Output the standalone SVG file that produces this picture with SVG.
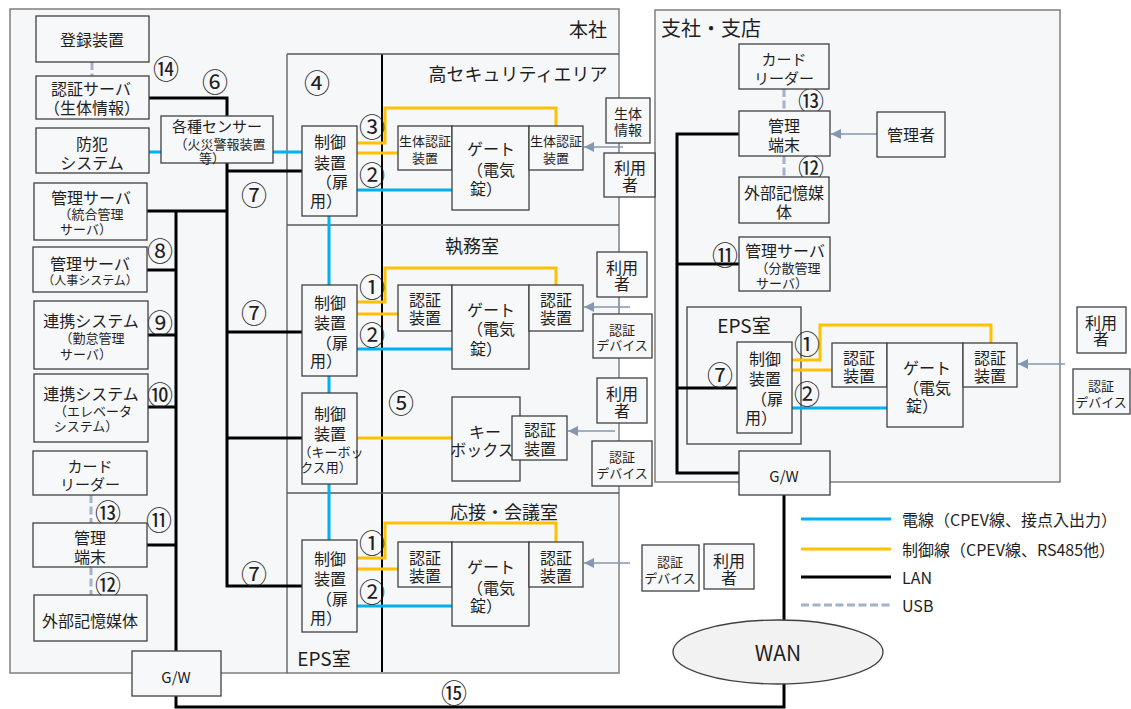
<svg xmlns="http://www.w3.org/2000/svg" width="1131" height="709" viewBox="0 0 1131 709">
<style>
text{font-family:"Noto Sans CJK JP","Noto Sans",sans-serif;fill:#1f1f1f;dominant-baseline:central;text-anchor:middle;font-size:16px}
.s13{font-size:13px}.s12{font-size:12px}.s14{font-size:14px}.s15{font-size:15px}
.num{font-size:26px}
.lbl{font-size:18px}
.area{fill:#f6f7f9;stroke:#7f7f7f;stroke-width:1.5}
.box{fill:#f7f8fa;stroke:#404040;stroke-width:1.3}
.room{stroke:#595959;stroke-width:1.3;fill:none}
.lan{stroke:#000;stroke-width:3;fill:none}
.pw{stroke:#00b0f0;stroke-width:3;fill:none}
.ctl{stroke:#ffc000;stroke-width:3;fill:none}
.usb{stroke:#a3b2c8;stroke-width:3;stroke-dasharray:8 3.5;fill:none}
.arr{stroke:#8497b0;stroke-width:1.5;fill:none;marker-end:url(#ah)}
</style>
<defs>
<marker id="ah" viewBox="0 0 10 10" refX="10" refY="5" markerWidth="11" markerHeight="10" markerUnits="userSpaceOnUse" orient="auto"><path d="M0,0 L10,5 L0,10 z" fill="#8497b0"/></marker>
</defs>
<rect width="1131" height="709" fill="#fff"/>
<g id="hq">
<rect class="area" x="10" y="9" width="609" height="664"/>
<text x="588" y="28" style="font-size:19px">本社</text>
</g>
<g id="branch">
<rect class="area" x="655" y="10" width="405" height="472"/>
<text x="661" y="27" style="font-size:20px;text-anchor:start">支社・支店</text>
</g>
<g id="rooms">
<line class="room" x1="287" y1="54" x2="287" y2="673"/>
<line x1="382" y1="54" x2="382" y2="672" stroke="#000" stroke-width="2"/>
<line class="room" x1="287" y1="54" x2="619" y2="54"/>
<line class="room" x1="287" y1="225" x2="619" y2="225"/>
<line class="room" x1="287" y1="493" x2="619" y2="493"/>
<text class="lbl" x="518" y="73">高セキュリティエリア</text>
<text class="lbl" x="472" y="245">執務室</text>
<text class="lbl" x="504" y="511">応接・会議室</text>
<text x="324" y="657" style="font-size:19px">EPS室</text>
<rect class="box" x="687" y="307" width="114" height="137" style="fill:#f6f7f9"/>
<text x="744" y="324" style="font-size:19px">EPS室</text>
</g>
<g id="connectors">
<polyline class="lan" points="149,98 227,98 227,116"/>
<polyline class="lan" points="227,163 227,586 302,586"/>
<line class="lan" x1="227" y1="171" x2="302" y2="171"/>
<line class="lan" x1="227" y1="332" x2="302" y2="332"/>
<line class="lan" x1="227" y1="438" x2="302" y2="438"/>
<polyline class="lan" points="147,211 227,211"/>
<line class="lan" x1="176" y1="211" x2="176" y2="651"/>
<line class="lan" x1="147" y1="270" x2="176" y2="270"/>
<line class="lan" x1="148" y1="335" x2="176" y2="335"/>
<line class="lan" x1="148" y1="407" x2="176" y2="407"/>
<line class="lan" x1="147" y1="545" x2="176" y2="545"/>
<polyline class="lan" points="176,696 176,707 784,707 784,684"/>
<line class="lan" x1="784" y1="495" x2="784" y2="620"/>
<polyline class="lan" points="739,134 677,134 677,473 739,473"/>
<line class="lan" x1="677" y1="264" x2="739" y2="264"/>
<line class="lan" x1="677" y1="388" x2="737" y2="388"/>
<line class="pw" x1="149" y1="152" x2="161" y2="152"/>
<line class="pw" x1="273" y1="152" x2="302" y2="152"/>
<line class="pw" x1="329" y1="216" x2="329" y2="540"/>
<line class="pw" x1="357" y1="190" x2="452" y2="190"/>
<line class="pw" x1="357" y1="349" x2="452" y2="349"/>
<line class="pw" x1="357" y1="606" x2="452" y2="606"/>
<line class="pw" x1="792" y1="408" x2="887" y2="408"/>
<polyline class="ctl" points="357,143 385,143 385,108 556,108 556,126"/>
<line class="ctl" x1="357" y1="153" x2="398" y2="153"/>
<polyline class="ctl" points="357,302 385,302 385,268 556,268 556,285"/>
<line class="ctl" x1="357" y1="314" x2="398" y2="314"/>
<line class="ctl" x1="357" y1="438" x2="452" y2="438"/>
<polyline class="ctl" points="357,558 385,558 385,523 556,523 556,542"/>
<line class="ctl" x1="357" y1="569" x2="398" y2="569"/>
<polyline class="ctl" points="792,360 820,360 820,325 991,325 991,343"/>
<line class="ctl" x1="792" y1="370" x2="832" y2="370"/>
<line class="usb" x1="92" y1="62" x2="92" y2="76"/>
<line class="usb" x1="91" y1="495" x2="91" y2="523"/>
<line class="usb" x1="91" y1="567" x2="91" y2="595"/>
<line class="usb" x1="784" y1="89" x2="784" y2="111"/>
<line class="usb" x1="784" y1="156" x2="784" y2="177"/>
<line class="arr" x1="623" y1="147" x2="584" y2="147"/>
<line class="arr" x1="630" y1="307" x2="584" y2="307"/>
<line class="arr" x1="615" y1="431" x2="568" y2="431"/>
<line class="arr" x1="630" y1="563" x2="584" y2="563"/>
<line class="arr" x1="877" y1="134" x2="831" y2="134"/>
<line class="arr" x1="1065" y1="364" x2="1018" y2="364"/>
</g>
<g id="numbers">
<text class="num" x="166" y="67">⑭</text>
<text class="num" x="215" y="80">⑥</text>
<text class="num" x="317" y="81">④</text>
<text class="num" x="372" y="125">③</text>
<text class="num" x="372" y="173">②</text>
<text class="num" x="372" y="285">①</text>
<text class="num" x="372" y="333">②</text>
<text class="num" x="401" y="401">⑤</text>
<text class="num" x="372" y="541">①</text>
<text class="num" x="372" y="590">②</text>
<text class="num" x="254" y="193">⑦</text>
<text class="num" x="254" y="311">⑦</text>
<text class="num" x="254" y="572">⑦</text>
<text class="num" x="160" y="249">⑧</text>
<text class="num" x="160" y="321">⑨</text>
<text class="num" x="160" y="393">⑩</text>
<text class="num" x="159" y="518">⑪</text>
<text class="num" x="108" y="511">⑬</text>
<text class="num" x="108" y="583">⑫</text>
<text class="num" x="454" y="691">⑮</text>
<text class="num" x="811" y="99">⑬</text>
<text class="num" x="811" y="166">⑫</text>
<text class="num" x="725" y="253">⑪</text>
<text class="num" x="720" y="373">⑦</text>
<text class="num" x="807" y="342">①</text>
<text class="num" x="807" y="392">②</text>
</g>
<g id="n-touroku"><rect class="box" x="36" y="16" width="113" height="46"/><text x="92" y="39">登録装置</text></g>
<g id="n-ninsho-server"><rect class="box" x="36" y="76" width="113" height="43"/><text><tspan x="91" y="88">認証サーバ</tspan><tspan x="92" y="107">（生体情報）</tspan></text></g>
<g id="n-bouhan"><rect class="box" x="36" y="128" width="113" height="45"/><text><tspan x="92" y="143">防犯</tspan><tspan x="92" y="162">システム</tspan></text></g>
<g id="n-kanri-server"><rect class="box" x="34" y="183" width="113" height="57"/><text><tspan x="91" y="197">管理サーバ</tspan><tspan class="s13" x="91" y="213">（統合管理</tspan><tspan class="s13" x="86" y="228">サーバ）</tspan></text></g>
<g id="n-jinji"><rect class="box" x="33" y="247" width="114" height="45"/><text><tspan x="90" y="263">管理サーバ</tspan><tspan class="s12" x="90" y="279">（人事システム）</tspan></text></g>
<g id="n-kintai"><rect class="box" x="34" y="301" width="114" height="68"/><text><tspan x="91" y="320">連携システム</tspan><tspan class="s13" x="92" y="337">（勤怠管理</tspan><tspan class="s13" x="86" y="353">サーバ）</tspan></text></g>
<g id="n-elevator"><rect class="box" x="34" y="374" width="114" height="68"/><text><tspan x="91" y="393">連携システム</tspan><tspan class="s13" x="93" y="410">（エレベータ</tspan><tspan class="s13" x="86" y="425">システム）</tspan></text></g>
<g id="n-card"><rect class="box" x="33" y="451" width="114" height="44"/><text class="s15"><tspan x="90" y="465">カード</tspan><tspan x="90" y="483">リーダー</tspan></text></g>
<g id="n-tanmatsu"><rect class="box" x="33" y="523" width="114" height="44"/><text><tspan x="90" y="537">管理</tspan><tspan x="90" y="556">端末</tspan></text></g>
<g id="n-gaibu"><rect class="box" x="34" y="595" width="113" height="46"/><text x="90" y="620">外部記憶媒体</text></g>
<g id="n-gw-hq"><rect class="box" x="132" y="651" width="89" height="45"/><text x="176" y="676" class="s15">G/W</text></g>
<g id="n-sensor"><rect class="box" x="161" y="116" width="112" height="47"/><text><tspan class="s15" x="217" y="125">各種センサー</tspan><tspan class="s13" x="220" y="143">（火災警報装置</tspan><tspan class="s13" x="212" y="157">等）</tspan></text></g>
<g id="n-ctrl-hs"><rect class="box" x="302" y="126" width="55" height="90"/><text><tspan x="330" y="141">制御</tspan><tspan x="330" y="162">装置</tspan><tspan x="332" y="181">（扉</tspan><tspan x="326" y="200">用）</tspan></text></g>
<g id="n-bio1"><rect class="box" x="398" y="126" width="54" height="44"/><text class="s13"><tspan x="425" y="140">生体認証</tspan><tspan x="425" y="157">装置</tspan></text></g>
<g id="n-gate-hs"><rect class="box" x="452" y="126" width="77" height="84"/><text><tspan x="491" y="148">ゲート</tspan><tspan x="491" y="169">（電気</tspan><tspan x="486" y="188">錠）</tspan></text></g>
<g id="n-bio2"><rect class="box" x="529" y="126" width="54" height="44"/><text class="s13"><tspan x="556" y="140">生体認証</tspan><tspan x="556" y="157">装置</tspan></text></g>
<g id="n-bioinfo"><rect class="box" x="606" y="98" width="44" height="45"/><text class="s14"><tspan x="628" y="113">生体</tspan><tspan x="628" y="129">情報</tspan></text></g>
<g id="n-user-hs"><rect class="box" x="604" y="153" width="51" height="44"/><text><tspan x="630" y="167">利用</tspan><tspan x="630" y="184">者</tspan></text></g>
<g id="n-ctrl-off"><rect class="box" x="302" y="285" width="55" height="91"/><text><tspan x="330" y="302">制御</tspan><tspan x="330" y="322">装置</tspan><tspan x="332" y="342">（扉</tspan><tspan x="326" y="360">用）</tspan></text></g>
<g id="n-auth-off1"><rect class="box" x="398" y="285" width="54" height="46"/><text><tspan x="425" y="299">認証</tspan><tspan x="425" y="317">装置</tspan></text></g>
<g id="n-gate-off"><rect class="box" x="452" y="285" width="77" height="84"/><text><tspan x="491" y="309">ゲート</tspan><tspan x="491" y="328">（電気</tspan><tspan x="486" y="348">錠）</tspan></text></g>
<g id="n-auth-off2"><rect class="box" x="529" y="285" width="54" height="46"/><text><tspan x="556" y="299">認証</tspan><tspan x="556" y="317">装置</tspan></text></g>
<g id="n-user-off"><rect class="box" x="597" y="252" width="50" height="45"/><text><tspan x="622" y="267">利用</tspan><tspan x="622" y="283">者</tspan></text></g>
<g id="n-dev-off"><rect class="box" x="593" y="314" width="59" height="44"/><text class="s13"><tspan x="622" y="329">認証</tspan><tspan x="622" y="344">デバイス</tspan></text></g>
<g id="n-ctrl-key"><rect class="box" x="302" y="393" width="55" height="91"/><text><tspan x="330" y="413">制御</tspan><tspan x="330" y="433">装置</tspan><tspan class="s13" x="331" y="451">（キーボッ</tspan><tspan class="s13" x="326" y="466">クス用）</tspan></text></g>
<g id="n-keybox"><rect class="box" x="452" y="397" width="68" height="84"/><text><tspan x="485" y="431">キー</tspan><tspan x="482" y="449">ボックス</tspan></text></g>
<g id="n-auth-key"><rect class="box" x="512" y="416" width="55" height="44"/><text><tspan x="540" y="429">認証</tspan><tspan x="540" y="448">装置</tspan></text></g>
<g id="n-user-key"><rect class="box" x="597" y="378" width="50" height="45"/><text><tspan x="622" y="393">利用</tspan><tspan x="622" y="410">者</tspan></text></g>
<g id="n-dev-key"><rect class="box" x="592" y="441" width="60" height="45"/><text class="s13"><tspan x="622" y="456">認証</tspan><tspan x="622" y="472">デバイス</tspan></text></g>
<g id="n-ctrl-mt"><rect class="box" x="302" y="540" width="55" height="92"/><text><tspan x="330" y="558">制御</tspan><tspan x="330" y="578">装置</tspan><tspan x="332" y="598">（扉</tspan><tspan x="326" y="617">用）</tspan></text></g>
<g id="n-auth-mt1"><rect class="box" x="398" y="542" width="54" height="45"/><text><tspan x="425" y="557">認証</tspan><tspan x="425" y="575">装置</tspan></text></g>
<g id="n-gate-mt"><rect class="box" x="452" y="542" width="77" height="84"/><text><tspan x="491" y="566">ゲート</tspan><tspan x="491" y="587">（電気</tspan><tspan x="486" y="605">錠）</tspan></text></g>
<g id="n-auth-mt2"><rect class="box" x="529" y="542" width="54" height="45"/><text><tspan x="556" y="557">認証</tspan><tspan x="556" y="575">装置</tspan></text></g>
<g id="n-dev-mt"><rect class="box" x="642" y="545" width="57" height="46"/><text class="s13"><tspan x="670" y="561">認証</tspan><tspan x="670" y="577">デバイス</tspan></text></g>
<g id="n-user-mt"><rect class="box" x="704" y="544" width="50" height="45"/><text><tspan x="729" y="560">利用</tspan><tspan x="729" y="577">者</tspan></text></g>
<g id="b-card"><rect class="box" x="739" y="44" width="90" height="45"/><text class="s15"><tspan x="784" y="58">カード</tspan><tspan x="784" y="77">リーダー</tspan></text></g>
<g id="b-tanmatsu"><rect class="box" x="739" y="111" width="91" height="45"/><text><tspan x="784" y="125">管理</tspan><tspan x="784" y="144">端末</tspan></text></g>
<g id="b-gaibu"><rect class="box" x="739" y="177" width="90" height="46"/><text><tspan x="784" y="192">外部記憶媒</tspan><tspan x="784" y="211">体</tspan></text></g>
<g id="b-kanrisha"><rect class="box" x="877" y="112" width="68" height="45"/><text x="911" y="134">管理者</text></g>
<g id="b-server"><rect class="box" x="739" y="237" width="91" height="54"/><text><tspan x="785" y="250">管理サーバ</tspan><tspan class="s13" x="788" y="267">（分散管理</tspan><tspan class="s13" x="782" y="282">サーバ）</tspan></text></g>
<g id="b-ctrl"><rect class="box" x="737" y="342" width="55" height="91"/><text><tspan x="765" y="358">制御</tspan><tspan x="765" y="378">装置</tspan><tspan x="767" y="398">（扉</tspan><tspan x="761" y="417">用）</tspan></text></g>
<g id="b-auth1"><rect class="box" x="832" y="343" width="55" height="44"/><text><tspan x="859" y="357">認証</tspan><tspan x="859" y="375">装置</tspan></text></g>
<g id="b-gate"><rect class="box" x="887" y="343" width="76" height="84"/><text><tspan x="927" y="367">ゲート</tspan><tspan x="927" y="387">（電気</tspan><tspan x="922" y="405">錠）</tspan></text></g>
<g id="b-auth2"><rect class="box" x="963" y="343" width="54" height="44"/><text><tspan x="990" y="357">認証</tspan><tspan x="990" y="375">装置</tspan></text></g>
<g id="b-user"><rect class="box" x="1077" y="307" width="49" height="46"/><text><tspan x="1101" y="322">利用</tspan><tspan x="1101" y="338">者</tspan></text></g>
<g id="b-dev"><rect class="box" x="1073" y="369" width="57" height="45"/><text class="s13"><tspan x="1101" y="385">認証</tspan><tspan x="1101" y="401">デバイス</tspan></text></g>
<g id="b-gw"><rect class="box" x="739" y="451" width="91" height="44"/><text class="s15" x="784" y="475">G/W</text></g>
<g id="wan"><ellipse cx="778" cy="652" rx="105" ry="32" fill="#f2f2f2" stroke="#404040" stroke-width="1.3"/><text x="778" y="652" style="font-size:21px">WAN</text></g>
<g id="legend">
<line class="pw" x1="801" y1="519" x2="891" y2="519"/>
<line class="ctl" x1="801" y1="549" x2="891" y2="549"/>
<line class="lan" x1="801" y1="577" x2="891" y2="577"/>
<line class="usb" x1="801" y1="605" x2="891" y2="605"/>
<text x="902" y="519" style="text-anchor:start">電線（CPEV線、接点入出力）</text>
<text x="902" y="549" style="text-anchor:start">制御線（CPEV線、RS485他）</text>
<text x="902" y="577" style="text-anchor:start">LAN</text>
<text x="902" y="605" style="text-anchor:start">USB</text>
</g>
</svg>
